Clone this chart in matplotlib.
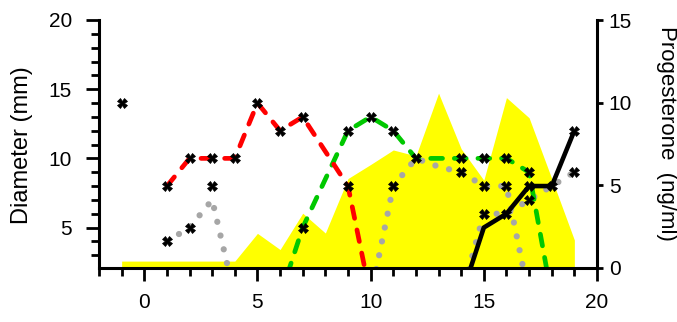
import matplotlib
matplotlib.use("Agg")
import matplotlib.pyplot as plt
from matplotlib.ticker import MultipleLocator, FixedLocator

plt.rcParams['font.family'] = ['Liberation Sans', 'DejaVu Sans']

# Progesterone (ng/ml), right axis, yellow area
prog_days = [-1, 0, 1, 2, 3, 4, 5, 6, 7, 8, 9, 10, 11, 12, 13, 14, 15, 16, 17, 18, 19]
prog = [0.4, 0.4, 0.4, 0.4, 0.4, 0.4, 2.08, 1.1, 3.3, 2.1, 5.4, 6.25, 7.13, 6.77, 10.57,
        7.2, 5.3, 10.3, 9.08, 5.4, 1.68]

# Follicle diameters (mm), left axis
red_days = [1, 2, 3, 4, 5, 6, 7, 9, 10]
red = [8, 10, 10, 10, 14, 12, 13, 8, 0]
green_days = [6, 7, 9, 10, 11, 12, 13, 14, 15, 16, 17, 18]
green = [0, 5, 12, 13, 12, 10, 10, 10, 10, 10, 9, 0]
black_days = [14, 15, 16, 17, 18, 19]
black = [0, 5, 6, 8, 8, 12]
gray1_days = [1, 2, 3, 4]
gray1 = [4, 5, 7, 0]
gray2_days = [10, 11, 12, 13, 14, 15, 16, 17]
gray2 = [0, 8, 10, 9.4, 9, 8, 8, 0]
gray3_days = [14, 15, 16, 17, 18, 19]
gray3 = [0, 6, 6, 7, 8, 9]

# individual measurements
mk_days = [-1, 1, 1, 2, 2, 3, 3, 4, 5, 6, 7, 7, 9, 9, 10, 11, 11, 12, 14, 14,
           15, 15, 15, 16, 16, 16, 17, 17, 17, 18, 19, 19]
mk_diam = [14, 8, 4, 10, 5, 10, 8, 10, 14, 12, 13, 5, 12, 8, 13, 12, 8, 10, 10, 9,
           10, 8, 6, 10, 8, 6, 9, 8, 7, 8, 12, 9]

W, H = 677, 322
fig = plt.figure(figsize=(W / 100, H / 100), dpi=100)
ax1 = fig.add_axes([99 / W, 1 - 267.7 / H, 498 / W, 247.7 / H])
ax2 = ax1.twinx()

# yellow area behind the diameter lines
ax1.set_zorder(ax2.get_zorder() + 1)
ax1.patch.set_visible(False)
ax2.fill_between(prog_days, 0, prog, color='#FFFF00', lw=0)

gray = '#A6A6A6'
dot = (0, (0.01, 2.25))
for d, v in [(gray1_days, gray1), (gray2_days, gray2), (gray3_days, gray3)]:
    ax1.plot(d, v, color=gray, lw=4.5, ls=dot, dash_capstyle='round')

dash = (0, (2.5, 2.5))
ax1.plot(green_days, green, color='#00C800', lw=3.4, ls=dash, dash_capstyle='round')
ax1.plot(red_days, red, color='#FF0000', lw=3.4, ls=dash, dash_capstyle='round')
ax1.plot(black_days, black, color='black', lw=3.3, solid_capstyle='butt')
ax1.plot(mk_days, mk_diam, ls='none', marker='X', ms=6.5, color='black',
         mec='black', mew=0.5, zorder=5)

ax1.set_xlim(-2, 20)
ax1.set_ylim(2.1, 20)
ax2.set_ylim(0, 15)

ax1.xaxis.set_major_locator(MultipleLocator(5))
ax1.xaxis.set_minor_locator(MultipleLocator(1))
ax1.yaxis.set_major_locator(FixedLocator([5, 10, 15, 20]))
ax1.yaxis.set_minor_locator(FixedLocator(list(range(3, 20))))
ax2.yaxis.set_major_locator(MultipleLocator(5))

ax1.spines['top'].set_visible(False)
ax1.spines['right'].set_visible(False)
for name in ['top', 'left', 'bottom']:
    ax2.spines[name].set_visible(False)
for s in ['left', 'bottom']:
    ax1.spines[s].set_linewidth(2.2)
ax2.spines['right'].set_linewidth(2.2)

ax1.tick_params(axis='both', which='major', length=9.5, width=2, labelsize=15)
ax1.tick_params(axis='both', which='minor', length=5.5, width=2)
ax1.tick_params(axis='y', which='major', pad=10)
ax1.tick_params(axis='x', which='major', pad=9)
ax2.tick_params(axis='y', which='major', length=4.5, width=2, labelsize=15, pad=4)

fig.text(21.7 / W, 1 - 145 / H, 'Diameter (mm)', rotation=90, ha='center', va='center',
         fontsize=17)
fig.text(667 / W, 1 - 133 / H, 'Progesterone  (ng/ml)', rotation=270, ha='center',
         va='center', fontsize=16)

fig.savefig('out.png', dpi=100)
